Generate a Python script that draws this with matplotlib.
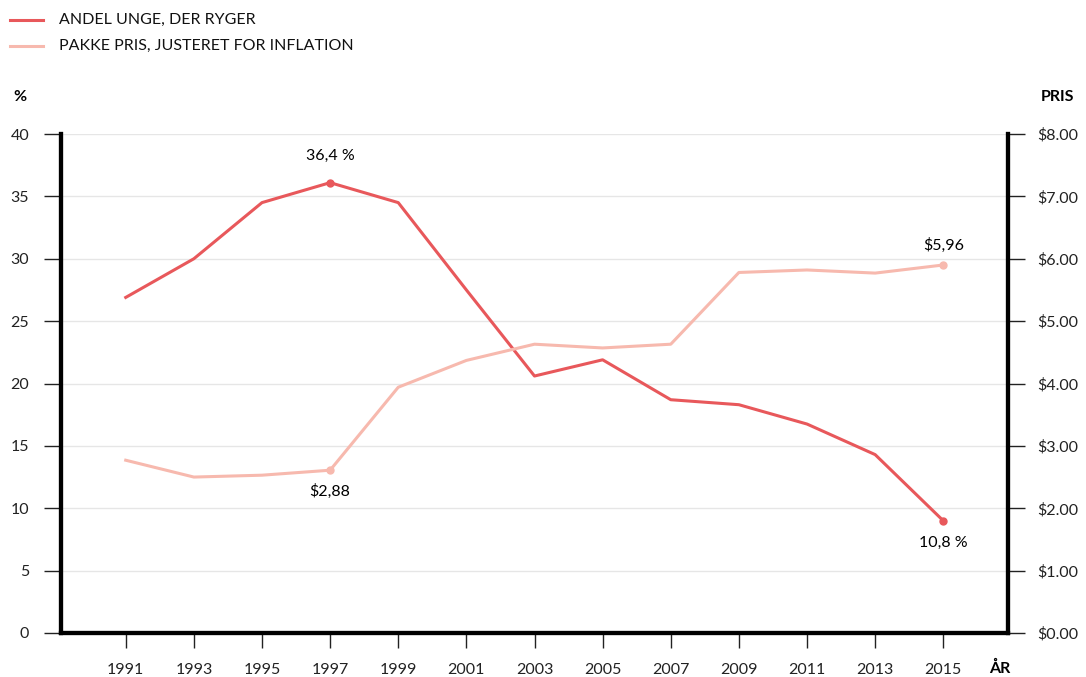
import numpy as np
import matplotlib.pyplot as plt

plt.rcParams['font.family'] = ['Lato', 'DejaVu Sans']

years = [1991, 1993, 1995, 1997, 1999, 2001, 2003, 2005, 2007, 2009, 2011, 2013, 2015]
smokers = [26.9, 30.0, 34.5, 36.1, 34.5, 27.5, 20.6, 21.9, 18.7, 18.3, 16.75, 14.3, 9.0]
price = [2.77, 2.50, 2.53, 2.61, 3.94, 4.37, 4.63, 4.57, 4.63, 5.78, 5.82, 5.77, 5.90]

red = '#e8585b'
pink = '#f7b9ae'

fig = plt.figure(figsize=(10.86, 6.77), dpi=100)
ax = fig.add_axes([61/1086, 44/677, 947/1086, 499/677])
ax2 = ax.twinx()

ax.plot(years, smokers, color=red, lw=2.2, zorder=3)
ax.plot([years[3], years[-1]], [smokers[3], smokers[-1]], 'o', color=red, ms=5, zorder=4)
ax2.plot(years, price, color=pink, lw=2.2, zorder=3)
ax2.plot([years[3], years[-1]], [price[3], price[-1]], 'o', color=pink, ms=5, zorder=4)

ax.set_xlim(1989.1, 2016.9)
ax.set_ylim(0, 40)
ax2.set_ylim(0, 8)
ax.set_xticks(years)
ax.set_yticks(range(0, 41, 5))
ax2.set_yticks(range(0, 9))
ax2.set_yticklabels(['$%.2f' % v for v in range(0, 9)])
ax.grid(axis='y', color='#e6e6e6', lw=1)
ax.set_axisbelow(True)

for a in (ax, ax2):
    a.spines['top'].set_visible(False)
    for s in ('left', 'right', 'bottom'):
        a.spines[s].set_linewidth(3)
        a.spines[s].set_color('black')
    a.tick_params(length=12, width=1, labelsize=11.5, colors='#222222')
ax.tick_params(axis='y', pad=11)
ax.tick_params(axis='x', length=10.5, pad=11)
ax2.tick_params(axis='y', pad=9)

ax.annotate('36,4 %', (years[3], smokers[3]), xytext=(0, 14), textcoords='offset points',
            ha='center', va='bottom', fontsize=11.5)
ax.annotate('10,8 %', (years[-1], smokers[-1]), xytext=(0, -11), textcoords='offset points',
            ha='center', va='top', fontsize=11.5)
ax2.annotate('$2,88', (years[3], price[3]), xytext=(0, -10), textcoords='offset points',
             ha='center', va='top', fontsize=11.5)
ax2.annotate('$5,96', (years[-1], price[-1]), xytext=(0, 9), textcoords='offset points',
             ha='center', va='bottom', fontsize=11.5)

fig.text(20/1086, 1 - 97/677, '%', fontsize=11.5, fontweight='bold', ha='center', va='center')
fig.text(1058/1086, 1 - 97/677, 'PRIS', fontsize=11.5, fontweight='bold', ha='center', va='center')
fig.text(1000/1086, 1 - 668/677, 'ÅR', fontsize=11.5, fontweight='bold', ha='center', va='center')

# legend
for yy, c, label in [(20, red, 'ANDEL UNGE, DER RYGER'), (46, pink, 'PAKKE PRIS, JUSTERET FOR INFLATION')]:
    fig.add_artist(plt.Line2D([10/1086, 43/1086], [1 - yy/677, 1 - yy/677], color=c, lw=2.2))
    fig.text(59/1086, 1 - yy/677, label, fontsize=11.5, ha='left', va='center', color='#111111')

fig.savefig('out.png', dpi=100)
